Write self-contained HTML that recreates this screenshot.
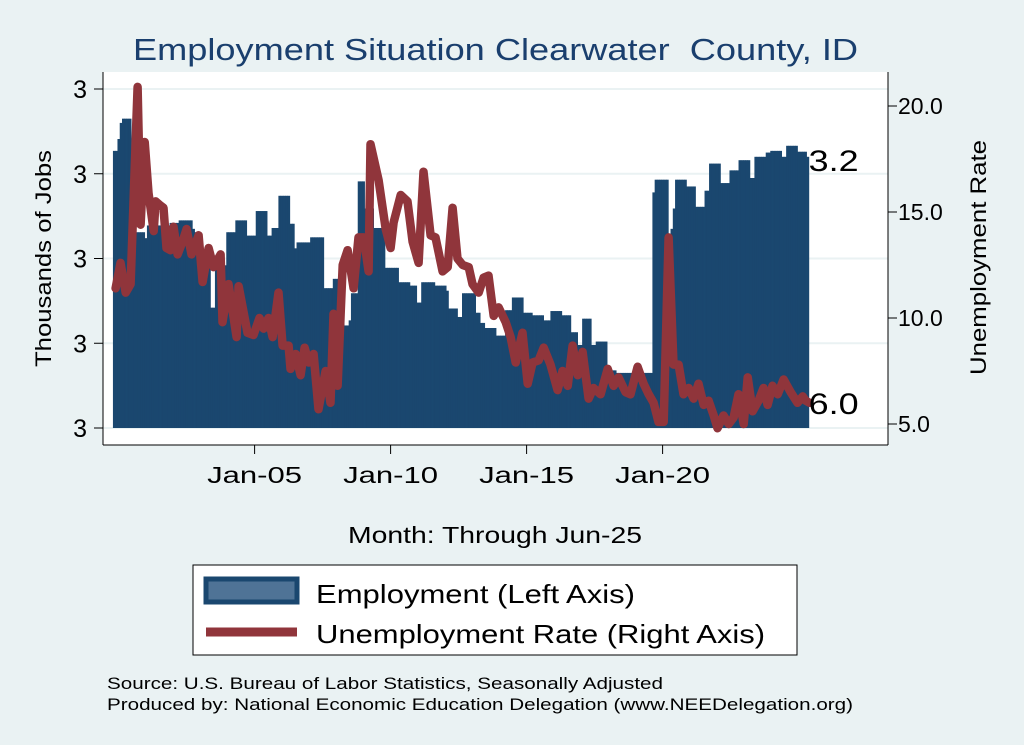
<!DOCTYPE html>
<html><head><meta charset="utf-8">
<style>
body{margin:0;background:#eaf2f3;}
svg{display:block;font-family:"Liberation Sans",sans-serif;}
</style></head>
<body>
<svg id="chart" width="1024" height="745" viewBox="0 0 1024 745" xmlns="http://www.w3.org/2000/svg">
<rect x="0" y="0" width="1024" height="745" fill="#eaf2f3"/>
<text x="133" y="60" font-size="31" fill="#1a3f6e" textLength="725" lengthAdjust="spacingAndGlyphs" xml:space="preserve">Employment Situation Clearwater  County, ID</text>
<rect x="103" y="72" width="785" height="373" fill="#ffffff"/>
<g id="grid"></g>
<g id="bars"></g>
<g id="line"></g>
<g id="axes"></g>
<text transform="translate(51,367) rotate(-90)" font-size="22" fill="#000" textLength="217" lengthAdjust="spacingAndGlyphs">Thousands of Jobs</text>
<text transform="translate(986,375) rotate(-90)" font-size="22" fill="#000" textLength="235" lengthAdjust="spacingAndGlyphs">Unemployment Rate</text>
<text x="348" y="543" font-size="23" fill="#000" textLength="294" lengthAdjust="spacingAndGlyphs">Month: Through Jun-25</text>
<g>
<rect x="193" y="565" width="604" height="90" fill="#fff" stroke="#000" stroke-width="1"/>
<rect x="206" y="579" width="91" height="23" fill="#4f7396" stroke="#1a476f" stroke-width="5"/>
<text x="316" y="603" font-size="26" fill="#000" textLength="319" lengthAdjust="spacingAndGlyphs">Employment (Left Axis)</text>
<line x1="206" y1="632" x2="297" y2="632" stroke="#90353b" stroke-width="9"/>
<text x="316" y="643" font-size="26" fill="#000" textLength="449" lengthAdjust="spacingAndGlyphs">Unemployment Rate (Right Axis)</text>
</g>
<text x="107" y="689" font-size="17" fill="#000" textLength="556" lengthAdjust="spacingAndGlyphs">Source: U.S. Bureau of Labor Statistics, Seasonally Adjusted</text>
<text x="107" y="710" font-size="17" fill="#000" textLength="746" lengthAdjust="spacingAndGlyphs">Produced by: National Economic Education Delegation (www.NEEDelegation.org)</text>
</svg>
<script>
// Employment, monthly from Nov 1999 (thousands)
const empStart = 1999 + 10/12;
const employment = [
3.227,3.227,3.241,3.260,3.265,3.265,3.265,3.265,
3.131,3.131,3.131,3.131,3.131,3.131,3.124,
3.139,3.139,3.139,3.139,3.139,3.139,3.139,3.139,3.139,3.139,
3.142,3.142,3.142,3.142,
3.145,3.145,3.145,3.145,3.145,3.145,
3.135,3.131,3.124,3.116,3.109,3.104,3.100,3.095,
3.042,3.042,
3.092,3.092,3.092,3.092,3.092,
3.131,3.131,3.131,3.131,
3.145,3.145,3.145,3.145,3.145,
3.127,3.127,3.127,3.127,
3.156,3.156,3.156,3.156,3.156,
3.127,3.127,
3.136,3.136,3.136,
3.174,3.174,3.174,3.174,3.174,
3.141,3.141,
3.112,
3.119,3.119,3.119,3.119,3.119,3.119,
3.125,3.125,3.125,3.125,3.125,3.125,
3.065,3.065,3.065,3.065,
3.076,3.076,3.076,3.076,3.076,
3.021,3.021,
3.027,
3.059,3.059,3.059,
3.191,3.191,3.191,
3.159,3.159,3.159,3.159,
3.136,3.136,3.136,3.136,3.136,
3.089,3.089,3.089,3.089,3.089,3.089,
3.072,3.072,3.072,3.072,3.072,
3.068,3.068,3.068,
3.048,3.048,
3.072,3.072,3.072,3.072,3.072,3.072,
3.068,3.068,3.068,3.068,3.068,
3.062,
3.041,3.041,3.041,3.041,
3.031,3.031,
3.059,3.059,3.059,3.059,3.059,3.059,
3.036,3.036,
3.024,3.024,
3.018,3.018,3.018,3.018,3.018,
3.009,3.009,3.009,3.009,
3.039,3.039,3.039,
3.054,3.054,3.054,3.054,3.054,
3.036,3.036,3.036,3.036,
3.033,3.033,3.033,3.033,3.033,
3.027,3.027,3.027,
3.038,3.038,3.038,3.038,3.038,
3.033,3.033,3.033,3.033,
3.013,3.013,3.013,
2.998,2.998,
3.029,3.029,3.029,3.029,
2.998,2.998,
3.002,3.002,3.002,3.002,3.002,
2.968,2.968,2.968,2.968,
2.965,2.965,2.965,2.965,2.965,2.965,2.965,2.965,2.965,2.965,2.965,2.965,2.965,2.965,2.965,2.965,
3.178,
3.193,3.193,3.193,3.193,3.193,3.193,
3.121,
3.135,
3.159,
3.193,3.193,3.193,3.193,3.193,
3.185,3.185,3.185,3.185,
3.161,3.161,3.161,3.161,
3.180,3.180,
3.212,3.212,3.212,3.212,3.212,
3.189,3.189,3.189,3.189,
3.204,3.204,3.204,3.204,
3.216,3.216,3.216,3.216,3.216,
3.195,3.195,
3.220,3.220,3.220,3.220,3.220,
3.225,3.225,
3.227,3.227,3.227,3.227,3.227,
3.220,3.220,
3.233,3.233,3.233,3.233,3.233,
3.226,3.226,3.226,3.226,
3.220
];
// Unemployment rate observations (decimal year, percent)
const unempYears = [1999.89,2000.07,2000.26,2000.44,2000.70,2000.81,2000.96,2001.10,2001.29,2001.36,2001.54,2001.65,2001.76,2001.91,2002.02,2002.17,2002.35,2002.50,2002.68,2002.94,2003.09,2003.31,2003.49,2003.75,2003.82,2004.04,2004.34,2004.41,2004.74,2004.96,2005.18,2005.33,2005.51,2005.66,2005.88,2006.03,2006.25,2006.32,2006.51,2006.69,2006.84,2006.99,2007.17,2007.35,2007.61,2007.79,2007.90,2008.05,2008.24,2008.42,2008.64,2008.82,2009.01,2009.19,2009.26,2009.56,2009.82,2010.00,2010.11,2010.37,2010.62,2010.81,2011.03,2011.21,2011.47,2011.65,2011.91,2012.10,2012.28,2012.46,2012.65,2012.87,2013.01,2013.24,2013.42,2013.60,2013.79,2013.97,2014.23,2014.41,2014.60,2014.85,2015.04,2015.22,2015.44,2015.63,2015.88,2016.14,2016.32,2016.51,2016.69,2016.88,2017.06,2017.28,2017.46,2017.72,2017.98,2018.20,2018.38,2018.64,2018.82,2019.08,2019.30,2019.49,2019.67,2019.85,2020.04,2020.22,2020.40,2020.59,2020.77,2020.96,2021.14,2021.32,2021.51,2021.69,2021.88,2022.02,2022.24,2022.43,2022.61,2022.79,2022.98,2023.13,2023.31,2023.53,2023.71,2023.86,2024.04,2024.23,2024.45,2024.71,2024.96,2025.15,2025.26,2025.40];
const unemployment = [11.4,12.6,11.2,11.6,20.9,14.4,18.3,15.9,14.1,15.5,15.3,15.2,13.3,13.2,14.3,13.0,13.6,14.2,13.0,13.9,11.7,13.3,12.4,13.0,9.8,11.6,9.1,11.5,9.3,9.2,10.0,9.5,10.0,9.1,11.2,8.7,8.7,7.6,8.3,7.3,8.6,7.9,8.3,5.7,7.5,6.0,10.2,6.8,12.5,13.2,11.4,13.8,13.8,12.2,18.2,16.5,14.2,13.3,14.5,15.8,15.5,13.6,12.6,16.9,13.9,13.8,12.2,12.4,15.2,12.8,12.5,12.4,11.6,11.2,11.9,12.0,10.1,10.5,9.8,9.1,7.9,9.3,6.9,7.9,8.0,8.6,7.8,6.6,7.5,6.8,8.7,7.3,8.4,6.2,6.7,6.4,7.6,6.8,7.2,6.5,6.4,7.7,6.9,6.4,6.0,5.1,5.1,13.8,7.8,7.8,6.4,6.7,6.2,6.9,5.9,6.1,5.4,4.8,5.4,5.0,5.3,6.4,5.0,7.2,5.6,6.1,6.7,5.9,6.8,6.4,7.1,6.5,6.0,6.3,6.1,6.0];
const leftTicks = [2.9,3.0,3.1,3.2,3.3];
const leftTickLabels = ["3","3","3","3","3"];
const rightTicks = [5,10,15,20];
const rightTickLabels = ["5.0","10.0","15.0","20.0"];
const xTicks = [2005,2010,2015,2020];
const xTickLabels = ["Jan-05","Jan-10","Jan-15","Jan-20"];
const lastEmpLabel = "3.2";
const lastUnempLabel = "6.0";

const NS = "http://www.w3.org/2000/svg";
const xScale = yr => 118.6 + (yr - 2000) * 27.2;
const yLeft = v => 428 - (v - 2.9) / 0.1 * 84.75;
const yRight = u => 424 - (u - 5) * 21.2;
function mk(tag, attrs, parent){const e=document.createElementNS(NS,tag);for(const k in attrs)e.setAttribute(k,attrs[k]);parent.appendChild(e);return e;}

const grid=document.getElementById('grid'), bars=document.getElementById('bars'), line=document.getElementById('line'), axes=document.getElementById('axes');
leftTicks.forEach((t,i)=>{
  const y=yLeft(t);
  const g=mk('line',{x1:103,x2:888,y1:y,y2:y,stroke:'#eaf2f3','stroke-width':2},grid);
  
  
  const tk=mk('line',{x1:94,x2:103,y1:y,y2:y,stroke:'#000','stroke-width':1},axes);
  
  
  const lb=mk('text',{x:87,y:y+9,'font-size':25,'text-anchor':'end',fill:'#000'},axes);
  lb.textContent=leftTickLabels[i];
  
  
});
const mw=27.2/12;
employment.forEach((v,i)=>{
  const yr=empStart+i/12;
  const x=xScale(yr)-mw/2;
  const y=yLeft(v);
  const r=mk('rect',{x:x,y:y,width:mw+0.4,height:428-y,fill:'#1a476f'},bars);
  
  
});
const pts=unempYears.map((yr,i)=>xScale(yr).toFixed(1)+','+yRight(unemployment[i]).toFixed(1)).join(' ');
const pl=mk('polyline',{points:pts,fill:'none',stroke:'#90353b','stroke-width':8.5,'stroke-linejoin':'round','stroke-linecap':'round'},line);



mk('line',{x1:103,x2:103,y1:72,y2:445,stroke:'#000','stroke-width':1},axes);
mk('line',{x1:888,x2:888,y1:72,y2:445,stroke:'#000','stroke-width':1},axes);
mk('line',{x1:103,x2:888,y1:445,y2:445,stroke:'#000','stroke-width':1},axes);
rightTicks.forEach((t,i)=>{
  const y=yRight(t);
  const tk=mk('line',{x1:888,x2:897,y1:y,y2:y,stroke:'#000','stroke-width':1},axes);
  
  
  const lb=mk('text',{x:898,y:y+8,'font-size':23,fill:'#000'},axes);
  lb.textContent=rightTickLabels[i];
  
  
});
xTicks.forEach((t,i)=>{
  const x=xScale(t);
  const tk=mk('line',{x1:x,x2:x,y1:445,y2:454,stroke:'#000','stroke-width':1},axes);
  
  
  const lb=mk('text',{x:x,y:483,'font-size':23,'text-anchor':'middle',fill:'#000',textLength:95,lengthAdjust:'spacingAndGlyphs'},axes);
  lb.textContent=xTickLabels[i];
  
  
});
const lastX=xScale(empStart+(employment.length-1)/12)+1;
const e1=mk('text',{x:lastX,y:yLeft(employment[employment.length-1])+14,'font-size':30,fill:'#000',textLength:50,lengthAdjust:'spacingAndGlyphs'},axes);
e1.textContent=lastEmpLabel;


const e2=mk('text',{x:lastX,y:yRight(unemployment[unemployment.length-1])+11,'font-size':30,fill:'#000',textLength:50,lengthAdjust:'spacingAndGlyphs'},axes);
e2.textContent=lastUnempLabel;


</script>
</body></html>
